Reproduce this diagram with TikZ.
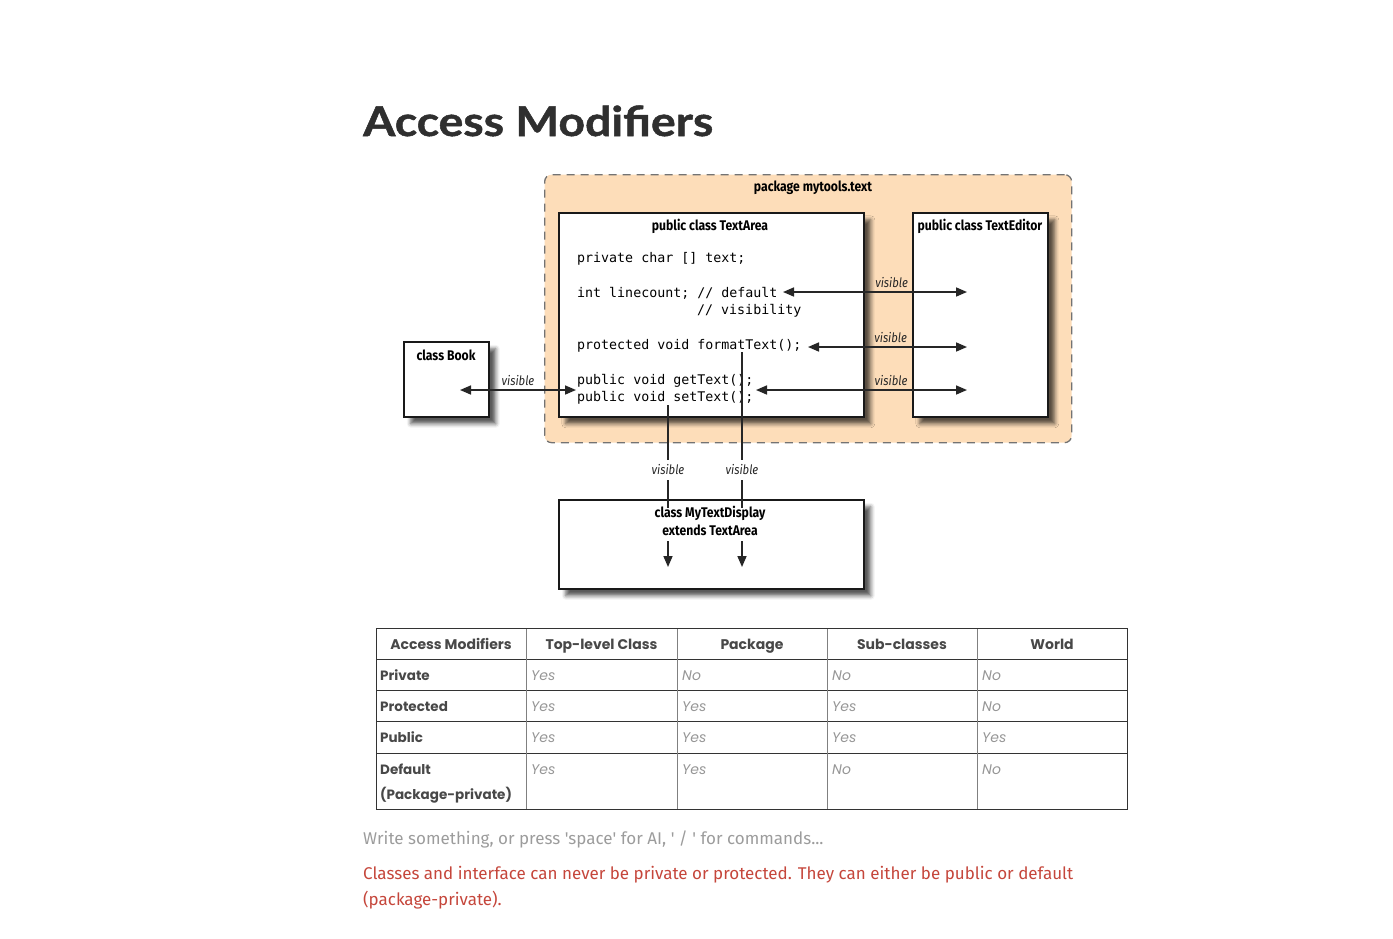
\documentclass[tikz,border=0pt]{standalone}
\usepackage{fontspec}
\setmainfont{Fira Sans}
\newfontfamily\titlefont[FakeStretch=1.13, FakeBold=1.2]{Lato}
\newfontfamily\condfont[FakeStretch=0.87]{Fira Sans}
\newfontfamily\codefont{DejaVu Sans Mono}
\newfontfamily\tablefont{Poppins}
\newfontfamily\notefont{Fira Sans}
\usepackage{tikz}
\usetikzlibrary{arrows.meta,shadows.blur,positioning}

\definecolor{peach}{RGB}{253,221,185}
\definecolor{titlegray}{RGB}{47,47,47}
\definecolor{headgray}{RGB}{72,72,72}
\definecolor{cellgray}{RGB}{150,150,150}
\definecolor{notegray}{RGB}{156,156,156}
\definecolor{notered}{RGB}{197,70,59}

\begin{document}
\begin{tikzpicture}[x=1pt, y=-1pt, >={Triangle[length=11pt,width=9pt]},
    classbox/.style={draw=black!90, line width=1.6pt, fill=white, anchor=north west, inner sep=0pt,
        blur shadow={shadow xshift=7pt, shadow yshift=-7pt, shadow blur radius=4pt, shadow opacity=65}},
    classtitle/.style={font=\condfont\bfseries\fontsize{14}{18}\selectfont, inner sep=0pt, align=center},
    codeline/.style={font=\codefont\fontsize{13.3}{15}\selectfont, anchor=base west, inner sep=0pt},
    vislabel/.style={font=\condfont\itshape\fontsize{13}{15}\selectfont, inner sep=1pt, text=black!85},
    visarrow/.style={<->, line width=1.6pt, black!85},
    visline/.style={line width=1.6pt, black!85},
    tablerule/.style={line width=0.9pt, black!80},
    tablecol/.style={line width=0.9pt, black!50},
    tablehead/.style={font=\tablefont\bfseries\fontsize{14}{16}\selectfont, text=headgray, anchor=base, inner sep=0pt},
    tablerow/.style={font=\tablefont\bfseries\fontsize{13.5}{16}\selectfont, text=headgray, anchor=base west, inner sep=0pt},
    tablecell/.style={font=\tablefont\itshape\fontsize{14}{16}\selectfont, text=cellgray, anchor=base west, inner sep=0pt},
    notetext/.style={font=\notefont\fontsize{17}{20}\selectfont, anchor=base west, inner sep=0pt}]
    \useasboundingbox (0,0) rectangle (1393,938);
    % Page title
    \node[anchor=base west, inner sep=0pt, text=titlegray, font=\titlefont\bfseries\fontsize{41}{48}\selectfont] (title) at (363,136) {Access Modifiers};
    % Package area
    \node[draw=black!55, dash pattern=on 8pt off 6pt, line width=1.3pt, fill=peach, rounded corners=7pt, minimum width=527pt, minimum height=268pt, anchor=north west, inner sep=0pt] (pkg) at (544,174) {};
    \node[classtitle] (pkgtitle) at (813,188) {package mytools.text};
    % Class boxes
    \node[classbox, minimum width=305pt, minimum height=204pt] (textarea) at (558,212) {};
    \node[classbox, minimum width=135pt, minimum height=204pt] (editor) at (912,212) {};
    \node[classbox, minimum width=85pt, minimum height=75pt] (book) at (403,341) {};
    \node[classbox, minimum width=305pt, minimum height=89pt] (display) at (558,499) {};
    \node[classtitle] (areatitle) at (710,226) {public class TextArea};
    \node[classtitle] (editortitle) at (980,226) {public class TextEditor};
    \node[classtitle] (booktitle) at (446,355) {class Book};
    \node[classtitle] (displaytitle) at (710,521) {class MyTextDisplay\\extends TextArea};
    % Members of TextArea
    \node[codeline] (privline) at (577,262) {private char [] text;};
    \node[codeline] (countline) at (577,297) {int linecount; // default};
    \node[codeline] (countnote) at (697,314) {// visibility};
    \node[codeline] (formatline) at (577,349) {protected void formatText();};
    \node[codeline] (getline) at (577,384) {public void getText();};
    \node[codeline] (setline) at (577,401) {public void setText();};
    % Arrow ends
    \coordinate (countend) at (783,292);
    \coordinate (formatend) at (808,347);
    \coordinate (pubend) at (756,390);
    \coordinate (editorA) at (967,292);
    \coordinate (editorB) at (967,347);
    \coordinate (editorC) at (967,390);
    \coordinate (bookend) at (460,390);
    \coordinate (pubstart) at (576,390);
    \coordinate (getdrop) at (668,405);
    \coordinate (getin) at (668,508);
    \coordinate (formatdrop) at (742,352);
    \coordinate (formatin) at (742,508);
    \coordinate (subA) at (668,541);
    \coordinate (subAtip) at (668,567);
    \coordinate (subB) at (742,541);
    \coordinate (subBtip) at (742,567);
    % Visibility arrows
    \draw[visarrow] (countend) -- node[vislabel, pos=0.59, above=3pt] {visible} (editorA);
    \draw[visarrow] (formatend) -- node[vislabel, pos=0.52, above=3pt] {visible} (editorB);
    \draw[visarrow] (pubend) -- node[vislabel, pos=0.64, above=3pt] {visible} (editorC);
    \draw[visarrow] (bookend) -- node[vislabel, pos=0.5, above=3pt] {visible} (pubstart);
    \draw[visline] (getdrop) -- node[vislabel, fill=white, inner ysep=5pt, pos=0.63] {visible} (getin);
    \draw[visline] (formatdrop) -- node[vislabel, fill=white, inner ysep=5pt, pos=0.756] {visible} (formatin);
    \draw[visline, ->] (subA) -- (subAtip);
    \draw[visline, ->] (subB) -- (subBtip);
    % Table grid
    \foreach \y in {659,690,721,753}
        \draw[tablerule] (376,\y) -- (1127,\y);
    \foreach \x in {526,677,827,977}
        \draw[tablecol] (\x,628) -- (\x,809);
    \draw[tablerule] (376,628) rectangle (1127,809);
    % Table text
    \foreach \x/\t [count=\i] in {451/Access Modifiers, 601.5/Top-level Class, 752/Package, 902/Sub-classes, 1052/World}
        \node[tablehead] (head\i) at (\x,649) {\t};
    \foreach \y/\t/\a/\b/\c/\d [count=\r] in {680/Private/Yes/No/No/No, 711.5/Protected/Yes/Yes/Yes/No, 742.5/Public/Yes/Yes/Yes/Yes, 774/Default/Yes/Yes/No/No} {
        \node[tablerow] (row\r) at (380,\y) {\t};
        \node[tablecell] (cell\r a) at (531,\y) {\a};
        \node[tablecell] (cell\r b) at (682,\y) {\b};
        \node[tablecell] (cell\r c) at (832,\y) {\c};
        \node[tablecell] (cell\r d) at (982,\y) {\d};
    }
    \node[tablerow] (rowextra) at (380,799) {(Package-private)};
    % Notes below
    \node[notetext, text=notegray] (prompt) at (363,844) {Write something, or press \textquotesingle space\textquotesingle{} for AI, \textquotesingle{} / \textquotesingle{} for commands...};
    \node[notetext, text=notered] (ruleA) at (363,879) {Classes and interface can never be private or protected. They can either be public or default};
    \node[notetext, text=notered] (ruleB) at (363,905) {(package-private).};
\end{tikzpicture}
\end{document}
